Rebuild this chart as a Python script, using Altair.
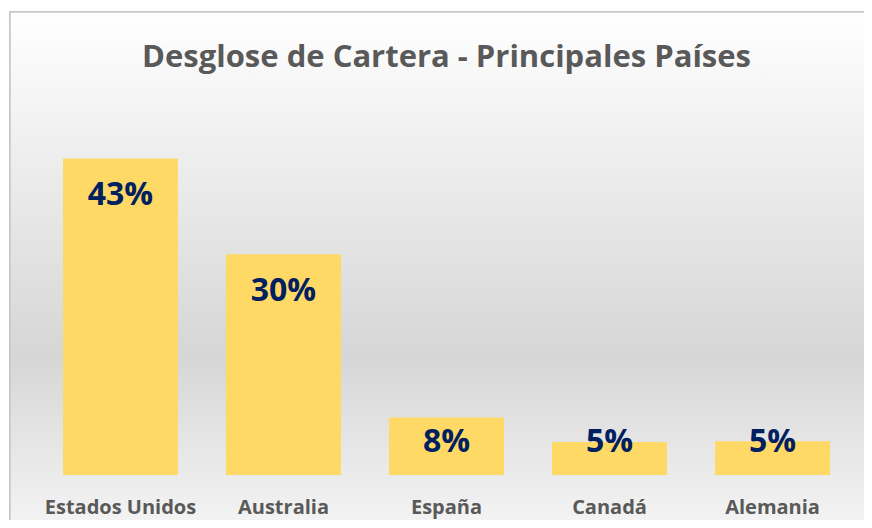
import altair as alt
import pandas as pd

paises = ["Estados Unidos", "Australia", "España", "Canadá", "Alemania"]
porcentajes = [43.0, 30.0, 7.8, 4.5, 4.6]

df = pd.DataFrame({"pais": paises, "valor": porcentajes})

W = 815
H = 368
PAD_L, PAD_T = 31, 99

x_enc = alt.X("pais:N", sort=paises,
              scale=alt.Scale(paddingInner=0.2945, paddingOuter=0.147),
              axis=alt.Axis(title=None, domain=False, ticks=False, labelAngle=0,
                            labelFont="Open Sans", labelFontWeight="bold",
                            labelFontSize=20, labelColor="#595959",
                            labelBaseline="middle", labelPadding=32, zindex=2))
y_scale = alt.Scale(domain=[0, 50])

bg = alt.Chart(df).mark_rect(
    clip=False,
    stroke="#c8c8c8", strokeWidth=1.5,
    fill=alt.Gradient(gradient="linear", x1=0, y1=0, x2=0, y2=1,
                      stops=[alt.GradientStop(offset=0, color="#ffffff"),
                             alt.GradientStop(offset=0.62, color="#d6d6d6"),
                             alt.GradientStop(offset=1, color="#fbfbfb")])
).encode(x=alt.value(-29), x2=alt.value(900), y=alt.value(-95), y2=alt.value(460))

bars = alt.Chart(df).mark_bar(color="#FFD966").encode(
    x=x_enc,
    y=alt.Y("valor:Q", scale=y_scale, axis=None),
)

labels = alt.Chart(df).transform_calculate(
    pos="max(datum.valor - 5, 4.5)",
    txt="round(datum.valor) + '%'"
).mark_text(font="Open Sans", fontWeight="bold", fontSize=32,
            color="#002060", baseline="middle", align="center").encode(
    x=alt.X("pais:N", sort=paises),
    y=alt.Y("pos:Q", scale=y_scale),
    text="txt:N",
)

chart = alt.layer(bg, bars, labels).properties(
    width=W, height=H,
    padding={"left": PAD_L, "top": PAD_T, "right": 10, "bottom": 45},
    autosize=alt.AutoSizeParams(type="none"),
    title=alt.Title("Desglose de Cartera - Principales Países",
                    font="Open Sans", fontSize=31, fontWeight="bold",
                    color="#595959", anchor="middle", offset=0, dy=63, zindex=2),
).configure_view(stroke=None).configure(background="white")

chart.save("out.html", embed_options={"renderer": "svg", "actions": False})
